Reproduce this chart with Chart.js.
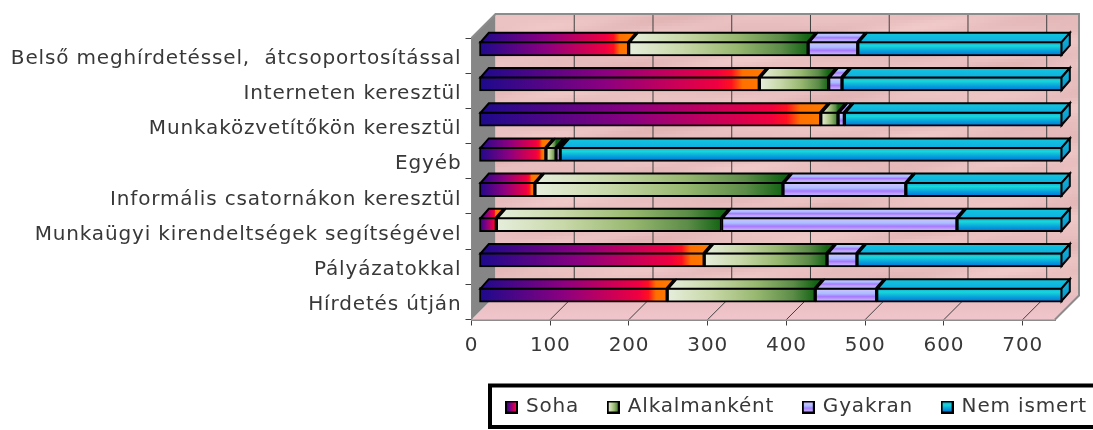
<!DOCTYPE html>
<html>
<head>
<meta charset="utf-8">
<style>
  html, body { margin: 0; padding: 0; background: #fff; }
  #wrap { width: 1093px; height: 430px; }
</style>
<script src="https://cdn.jsdelivr.net/npm/chart.js@4"></script>
</head>
<body>
<div id="wrap"><canvas id="grafico" width="1093" height="430"></canvas></div>
<script>
const categorias = [
    'Belső meghírdetéssel,  átcsoportosítással',
    'Interneten keresztül',
    'Munkaközvetítőkön keresztül',
    'Egyéb',
    'Informális csatornákon keresztül',
    'Munkaügyi kirendeltségek segítségével',
    'Pályázatokkal',
    'Hírdetés útján'
];
const soha = [190, 356, 434, 85, 71, 22, 286, 239];
const alkalmanként = [228, 88, 22, 13, 315, 286, 156, 188];
const gyakran = [63, 17, 8, 5, 156, 299, 38, 78];
const nemIsmert = [260, 280, 277, 638, 199, 134, 261, 236];
const nevek = ['Soha', 'Alkalmanként', 'Gyakran', 'Nem ismert'];
const sorozatok = [soha, alkalmanként, gyakran, nemIsmert];
const osszeg = 741;

// 3D look: how far the back wall sits, and where the bars sit in that depth
const melyX = 24, melyY = -24;
const rudX = 7.5, rudY = -7;
const rudMelyX = 8.3, rudMelyY = -9.5;
const rudVastag = 14.5;

const szinek = {
    soha: [[0, '#1c0a8c'], [0.45, '#8c0080'], [0.85, '#f00040'], [0.9, '#ff1020'], [0.94, '#ff7000'], [1, '#ff7800']],
    alk: [[0, '#e6eedc'], [0.3, '#c8d8a8'], [0.6, '#98b870'], [0.85, '#5c8c48'], [1, '#146414']],
    gyak: [[0, '#b89cff'], [0.18, '#c8c0ff'], [0.4, '#a8c0ff'], [0.62, '#a878ff'], [0.82, '#c0a8ff'], [1, '#b0b0ff']],
    nem: [[0, '#0c9cd8'], [0.3, '#18d8d8'], [0.65, '#08a0dc'], [1, '#0070d8']],
    nemTeteje: [[0, '#10c8dc'], [1, '#10b0e0']]
};

function gradiens(ctx, x0, y0, x1, y1, stopok) {
    const g = ctx.createLinearGradient(x0, y0, x1, y1);
    stopok.forEach(s => g.addColorStop(s[0], s[1]));
    return g;
}

// fill of one bar segment, in the same coordinates the library draws the bar in
function rudSzin(chart, d, i, felso) {
    const x = chart.scales.x, y = chart.scales.y;
    let alap = 0;
    for (let k = 0; k < d; k++) alap += sorozatok[k][i];
    const x0 = x.getPixelForValue(alap), x1 = x.getPixelForValue(alap + sorozatok[d][i]);
    const yk = y.getPixelForValue(i);
    const fel = yk - rudVastag / 2, le = yk + rudVastag / 2;
    const c = chart.ctx;
    if (d === 0) return gradiens(c, x0, 0, x1, 0, szinek.soha);
    if (d === 1) return gradiens(c, x0, 0, x1, 0, szinek.alk);
    if (felso) {
        return gradiens(c, 0, fel + rudMelyY, 0, fel, d === 2 ? szinek.gyak : szinek.nemTeteje);
    }
    return gradiens(c, 0, fel, 0, le, d === 2 ? szinek.gyak : szinek.nem);
}

// legend swatch as a small canvas, drawn by the legend as its point style
function mintaKocka(d) {
    const m = 13;
    const cv = document.createElement('canvas');
    cv.width = m;
    cv.height = m;
    const c = cv.getContext('2d');
    if (d < 2) c.fillStyle = gradiens(c, 1, 0, m - 1, 0, d === 0 ? szinek.soha : szinek.alk);
    else c.fillStyle = gradiens(c, 0, 1, 0, m - 1, d === 2 ? szinek.gyak : szinek.nem);
    c.fillRect(0, 0, m, m);
    c.strokeStyle = '#000';
    c.lineWidth = 2;
    c.strokeRect(1, 1, m - 2, m - 2);
    return cv;
}

function zaj(x, y) {
    const v = Math.sin(x * 0.031 + y * 0.17) + Math.sin(x * 0.017 - y * 0.11 + 1.3) +
        Math.sin(x * 0.053 + y * 0.29 + 2.1) * 0.6;
    return v / 2.6;
}

const hatterPlugin = {
    id: 'hatter',
    beforeUpdate(chart) {
        // the reference sets its text wider than the font's own advance
        chart.ctx.letterSpacing = '0.85px';
    },
    beforeDatasetsDraw(chart) {
        const c = chart.ctx, a = chart.chartArea, x = chart.scales.x;
        const L = a.left, R = a.right, T = a.top, B = a.bottom;
        c.save();
        // back wall, mottled
        const falX = Math.round(L + melyX), falY = Math.round(T + melyY);
        const falJ = Math.round(R + melyX), falA = Math.round(B + melyY);
        for (let px = falX; px < falJ; px += 4) {
            for (let py = falY; py < falA; py += 3) {
                const v = zaj(px, py);
                c.fillStyle = `rgb(${Math.round(233 + v * 7)},${Math.round(191 + v * 10)},${Math.round(191 + v * 10)})`;
                c.fillRect(px, py, Math.min(4, falJ - px), Math.min(3, falA - py));
            }
        }
        // floor
        c.beginPath();
        c.moveTo(L, B); c.lineTo(R, B); c.lineTo(R + melyX, B + melyY); c.lineTo(L + melyX, B + melyY);
        c.closePath();
        c.fillStyle = gradiens(c, 0, B + melyY, 0, B, [[0, '#e8bcc0'], [1, '#f0c6cc']]);
        c.fill();
        // left wall
        c.beginPath();
        c.moveTo(L, T); c.lineTo(L + melyX, T + melyY); c.lineTo(L + melyX, B + melyY); c.lineTo(L, B);
        c.closePath();
        c.fillStyle = '#868686';
        c.fill();
        // grid lines on floor and back wall, from the x scale
        c.strokeStyle = '#404040';
        c.lineWidth = 1;
        x.ticks.forEach(t => {
            if (t.value === 0) return;
            const px = x.getPixelForValue(t.value);
            c.beginPath();
            c.moveTo(px, B);
            c.lineTo(px + melyX, B + melyY);
            c.lineTo(px + melyX, T + melyY);
            c.stroke();
        });
        // outline of the box
        c.strokeStyle = '#8c8c8c';
        c.lineWidth = 2;
        c.beginPath();
        c.moveTo(L, T); c.lineTo(L + melyX, T + melyY); c.lineTo(R + melyX, T + melyY);
        c.lineTo(R + melyX, B + melyY); c.lineTo(R, B);
        c.stroke();
        c.restore();
        // bars sit inside the depth of the box
        c.save();
        c.translate(rudX, rudY);
    },
    afterDatasetsDraw(chart) {
        const c = chart.ctx;
        c.lineWidth = 2;
        c.strokeStyle = '#000';
        c.lineJoin = 'miter';
        for (let d = 0; d < sorozatok.length; d++) {
            chart.getDatasetMeta(d).data.forEach((el, i) => {
                const p = el.getProps(['x', 'y', 'base', 'height'], true);
                // the library keeps the border inside the bar, so go to the middle of that border
                const fel = p.y - p.height / 2 + 1, le = p.y + p.height / 2 - 1;
                const bal = p.base + 1, jobb = p.x - 1;
                c.beginPath();
                c.moveTo(bal, fel); c.lineTo(jobb, fel);
                c.lineTo(jobb + rudMelyX, fel + rudMelyY); c.lineTo(bal + rudMelyX, fel + rudMelyY);
                c.closePath();
                c.fillStyle = rudSzin(chart, d, i, true);
                c.fill();
                c.stroke();
                if (d === sorozatok.length - 1) {
                    c.beginPath();
                    c.moveTo(jobb, fel); c.lineTo(jobb + rudMelyX, fel + rudMelyY);
                    c.lineTo(jobb + rudMelyX, le + rudMelyY); c.lineTo(jobb, le);
                    c.closePath();
                    c.fillStyle = gradiens(c, 0, fel + rudMelyY, 0, le, [[0, '#14b8dc'], [1, '#0890c8']]);
                    c.fill();
                    c.stroke();
                }
            });
        }
        c.restore();
    }
};

const jelmagyarazatPlugin = {
    id: 'jelmagyarazat',
    afterLayout(chart) {
        // the legend runs off the right edge of the picture, and sits lower than the layout puts it
        chart.legend.right += 23.5;
        chart.legend.top -= 3;
        chart.legend.bottom -= 3;
        // category labels sit a little under the middle of their band
        chart.scales.y.getLabelItems().forEach(it => { it.options.translation[1] += 3; });
    },
    afterDraw(chart) {
        const c = chart.ctx;
        c.save();
        c.strokeStyle = '#000';
        c.lineWidth = 4;
        c.strokeRect(490, 385.5, 620, 41.5);
        c.restore();
    }
};

const betu = { family: '"DejaVu Sans"', size: 20 };
const szovegSzin = '#383838';

window.onload = () => {
    const contexto = document.getElementById('grafico');
    new Chart(contexto, {
        type: 'bar',
        data: {
            labels: categorias,
            datasets: sorozatok.map((adat, d) => ({
                label: nevek[d],
                data: adat,
                backgroundColor: c => rudSzin(c.chart, d, c.dataIndex, false),
                borderColor: '#000',
                borderWidth: 2,
                borderSkipped: false,
                barThickness: rudVastag,
                clip: false
            }))
        },
        plugins: [hatterPlugin, jelmagyarazatPlugin],
        options: {
            indexAxis: 'y',
            responsive: false,
            animation: false,
            layout: { padding: { top: 38, left: 0, right: 0, bottom: 0 } },
            scales: {
                x: {
                    stacked: true,
                    min: 0,
                    max: osszeg,
                    afterFit: s => { s.height = 51; },
                    grid: { drawOnChartArea: false, color: '#404040', tickLength: 6 },
                    border: { color: '#8c8c8c', width: 2 },
                    ticks: {
                        stepSize: 100,
                        includeBounds: false,
                        maxRotation: 0,
                        color: szovegSzin,
                        padding: 8,
                        font: betu
                    }
                },
                y: {
                    stacked: true,
                    afterFit: s => { s.width = 471.5; },
                    grid: { drawOnChartArea: false, color: '#404040', tickLength: 6 },
                    border: { color: '#8c8c8c', width: 2 },
                    ticks: {
                        autoSkip: false,
                        color: szovegSzin,
                        padding: 4,
                        font: betu
                    }
                },
                oldal: {
                    type: 'category',
                    position: 'right',
                    labels: [],
                    afterFit: s => { s.width = 38; },
                    grid: { display: false },
                    border: { display: false },
                    ticks: { display: false }
                }
            },
            plugins: {
                tooltip: { enabled: false },
                legend: {
                    position: 'bottom',
                    align: 'end',
                    labels: {
                        usePointStyle: true,
                        pointStyleWidth: 9,
                        boxHeight: 12,
                        padding: 29.5,
                        color: szovegSzin,
                        font: betu,
                        generateLabels: () => nevek.map((nev, d) => ({
                            text: nev,
                            pointStyle: mintaKocka(d),
                            fillStyle: '#000',
                            strokeStyle: '#000',
                            lineWidth: 2,
                            datasetIndex: d,
                            fontColor: szovegSzin
                        }))
                    }
                }
            }
        }
    });
};
</script>
</body>
</html>
